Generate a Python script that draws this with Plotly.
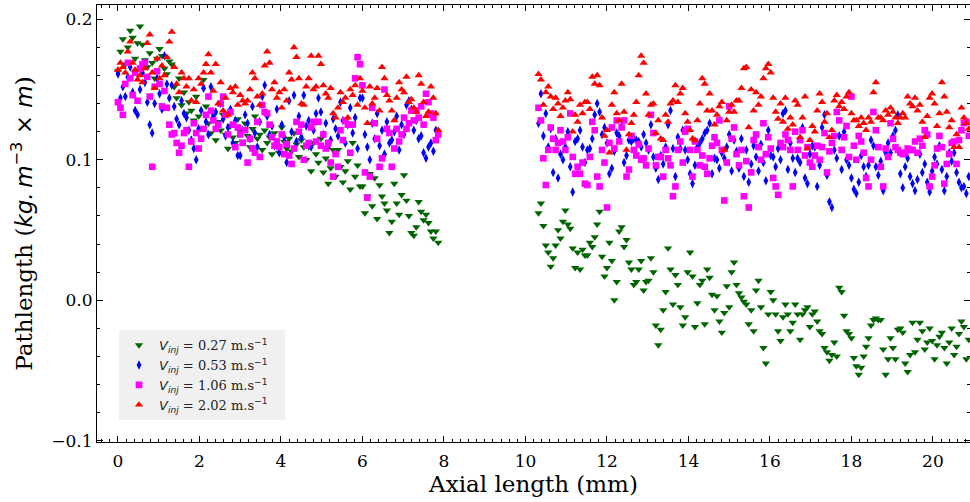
import numpy as np
import plotly.graph_objects as go

# ---------------- data ----------------
AXIAL_STEP_MM = 0.06
LEFT_START_MM = 0.0
RIGHT_START_MM = 10.32

MATH = '<span style="font-family:DejaVu Sans">'
PAD = "\u00a0\u00a0\u00a0"
series_names = [
    MATH + "<i>V</i><sub><i>inj</i></sub></span> = 0.27 m.s" + MATH + "<sup>−1</sup></span>" + PAD,
    MATH + "<i>V</i><sub><i>inj</i></sub></span> = 0.53 m.s" + MATH + "<sup>−1</sup></span>" + PAD,
    MATH + "<i>V</i><sub><i>inj</i></sub></span> = 1.06 m.s" + MATH + "<sup>−1</sup></span>" + PAD,
    MATH + "<i>V</i><sub><i>inj</i></sub></span> = 2.02 m.s" + MATH + "<sup>−1</sup></span>" + PAD,
]

green_left = [
    0.163, 0.177, 0.186, 0.168, 0.180, 0.192, 0.187, 0.172, 0.183, 0.195,
    0.182, 0.171, 0.166, 0.176, 0.169, 0.158, 0.172, 0.179, 0.174, 0.165,
    0.161, 0.170, 0.168, 0.152, 0.144, 0.158, 0.139, 0.148, 0.133, 0.141,
    0.135, 0.128, 0.145, 0.131, 0.122, 0.157, 0.138, 0.126, 0.119, 0.133,
    0.114, 0.127, 0.121, 0.132, 0.118, 0.108, 0.124, 0.116, 0.112, 0.129,
    0.120, 0.113, 0.126, 0.117, 0.109, 0.122, 0.131, 0.115, 0.118, 0.107,
    0.121, 0.112, 0.116, 0.104, 0.119, 0.110, 0.105, 0.123, 0.113, 0.108,
    0.115, 0.106, 0.119, 0.111, 0.102, 0.114, 0.109, 0.100, 0.109, 0.092,
    0.112, 0.104, 0.098, 0.115, 0.091, 0.101, 0.083, 0.094, 0.107, 0.088,
    0.107, 0.095, 0.084, 0.092, 0.099, 0.079, 0.112, 0.088, 0.096, 0.081,
    0.081, 0.062, 0.074, 0.090, 0.067, 0.087, 0.058, 0.082, 0.074, 0.069,
    0.064, 0.048, 0.056, 0.083, 0.069, 0.061, 0.075, 0.089, 0.071, 0.060,
    0.048, 0.046, 0.052, 0.070, 0.063, 0.057, 0.061, 0.055, 0.049, 0.044,
    0.049, 0.041,
]
green_right = [
    0.062, 0.069, 0.053, 0.039, 0.034, 0.024, 0.030, 0.039, 0.050, 0.044,
    0.056, 0.064, 0.054, 0.051, 0.037, 0.023, 0.034, 0.022, 0.036, 0.032,
    0.032, 0.041, 0.038, 0.045, 0.054, 0.063, 0.031, 0.017, 0.023, 0.041,
    0.028, 0.000, 0.013, 0.049, 0.052, 0.038, 0.043, 0.027, 0.022, 0.011,
    0.013, 0.022, 0.028, 0.007, 0.013, 0.014, 0.030, 0.020, -0.018, -0.032,
    -0.021, -0.007, 0.006, 0.037, 0.022, -0.003, 0.018, 0.011, -0.005, -0.018,
    -0.012, 0.020, 0.034, 0.017, -0.019, -0.002, 0.011, 0.014, -0.017, 0.022,
    0.016, 0.004, -0.007, 0.003, -0.015, -0.023, -0.009, 0.010, -0.005, 0.020,
    0.027, 0.011, 0.005, 0.002, -0.001, -0.003, -0.017, -0.007, -0.022, 0.007,
    0.014, -0.005, -0.034, -0.045, -0.010, 0.006, 0.000, -0.010, -0.022, -0.029,
    -0.012, -0.003, -0.010, -0.022, -0.016, -0.003, -0.010, -0.028, -0.010, -0.007,
    -0.005, -0.019, -0.010, -0.008, -0.015, -0.022, -0.024, -0.034, -0.037, -0.043,
    -0.039, -0.030, -0.040, 0.009, 0.006, -0.011, -0.022, -0.024, -0.027, -0.041,
    -0.047, -0.053, -0.048, -0.040, -0.033, -0.027, -0.018, -0.014, -0.013, -0.014,
    -0.014, -0.035, -0.053, -0.042, -0.027, -0.034, -0.042, -0.021, -0.020, -0.023,
    -0.045, -0.051, -0.039, -0.016, -0.037, -0.028, -0.016, -0.022, -0.035, -0.030,
    -0.020, -0.029, -0.042, -0.032, -0.026, -0.023, -0.034, -0.045, -0.030, -0.020,
    -0.039, -0.033, -0.024, -0.015, -0.019, -0.042, -0.028,
]

blue_left = [
    0.161, 0.144, 0.152, 0.145, 0.159, 0.166, 0.148, 0.135, 0.132, 0.150,
    0.162, 0.155, 0.141, 0.125, 0.119, 0.140, 0.158, 0.147, 0.136, 0.174,
    0.154, 0.144, 0.153, 0.138, 0.129, 0.125, 0.142, 0.133, 0.130, 0.121,
    0.114, 0.108, 0.100, 0.122, 0.135, 0.151, 0.127, 0.118, 0.152, 0.131,
    0.134, 0.125, 0.140, 0.129, 0.117, 0.123, 0.136, 0.112, 0.128, 0.103,
    0.103, 0.121, 0.132, 0.126, 0.115, 0.138, 0.119, 0.109, 0.127, 0.145,
    0.153, 0.131, 0.118, 0.124, 0.110, 0.136, 0.105, 0.125, 0.116, 0.098,
    0.142, 0.120, 0.146, 0.113, 0.131, 0.116, 0.146, 0.124, 0.128, 0.109,
    0.121, 0.133, 0.144, 0.134, 0.118, 0.126, 0.109, 0.114, 0.129, 0.122,
    0.117, 0.141, 0.128, 0.112, 0.125, 0.137, 0.119, 0.130, 0.108, 0.144,
    0.144, 0.118, 0.109, 0.100, 0.126, 0.115, 0.133, 0.110, 0.121, 0.104,
    0.127, 0.112, 0.114, 0.120, 0.131, 0.107, 0.125, 0.118, 0.139, 0.142,
    0.136, 0.121, 0.128, 0.115, 0.117, 0.105, 0.101, 0.109, 0.112, 0.106,
    0.121, 0.120,
]
blue_right = [
    0.126, 0.147, 0.117, 0.133, 0.109, 0.122, 0.091, 0.115, 0.087, 0.104,
    0.100, 0.109, 0.120, 0.095, 0.077, 0.113, 0.115, 0.121, 0.109, 0.098,
    0.107, 0.108, 0.115, 0.132, 0.140, 0.134, 0.118, 0.123, 0.112, 0.090,
    0.094, 0.106, 0.119, 0.117, 0.124, 0.098, 0.103, 0.114, 0.113, 0.115,
    0.114, 0.113, 0.109, 0.118, 0.112, 0.107, 0.125, 0.102, 0.094, 0.086,
    0.103, 0.097, 0.109, 0.125, 0.135, 0.108, 0.088, 0.116, 0.108, 0.121,
    0.107, 0.100, 0.090, 0.083, 0.096, 0.109, 0.112, 0.115, 0.119, 0.121,
    0.126, 0.090, 0.101, 0.100, 0.094, 0.105, 0.101, 0.109, 0.118, 0.092,
    0.114, 0.106, 0.094, 0.115, 0.088, 0.107, 0.084, 0.097, 0.110, 0.102,
    0.092, 0.111, 0.098, 0.085, 0.121, 0.103, 0.102, 0.095, 0.108, 0.100,
    0.133, 0.135, 0.093, 0.112, 0.101, 0.091, 0.101, 0.098, 0.123, 0.087,
    0.083, 0.104, 0.110, 0.109, 0.081, 0.096, 0.123, 0.132, 0.089, 0.070,
    0.066, 0.107, 0.101, 0.117, 0.093, 0.120, 0.100, 0.096, 0.087, 0.079,
    0.076, 0.084, 0.103, 0.095, 0.088, 0.096, 0.114, 0.110, 0.095, 0.089,
    0.099, 0.078, 0.105, 0.112, 0.105, 0.117, 0.121, 0.132, 0.090, 0.080,
    0.095, 0.101, 0.088, 0.083, 0.078, 0.086, 0.104, 0.091, 0.097, 0.084,
    0.077, 0.092, 0.102, 0.097, 0.110, 0.093, 0.078, 0.088, 0.105, 0.099,
    0.105, 0.091, 0.084, 0.080, 0.081, 0.076, 0.088,
]

magenta_left = [
    0.141, 0.137, 0.132, 0.154, 0.169, 0.158, 0.146, 0.162, 0.142, 0.165,
    0.168, 0.169, 0.159, 0.145, 0.095, 0.152, 0.163, 0.154, 0.138, 0.149,
    0.137, 0.125, 0.118, 0.119, 0.112, 0.105, 0.110, 0.119, 0.121, 0.095,
    0.113, 0.126, 0.119, 0.108, 0.115, 0.122, 0.132, 0.145, 0.135, 0.128,
    0.122, 0.125, 0.140, 0.145, 0.132, 0.118, 0.134, 0.125, 0.109, 0.123,
    0.118, 0.112, 0.121, 0.098, 0.115, 0.108, 0.105, 0.127, 0.102, 0.139,
    0.134, 0.133, 0.125, 0.116, 0.110, 0.113, 0.109, 0.118, 0.104, 0.111,
    0.103, 0.097, 0.108, 0.127, 0.120, 0.125, 0.100, 0.110, 0.112, 0.123,
    0.127, 0.113, 0.127, 0.110, 0.118, 0.108, 0.112, 0.098, 0.088, 0.104,
    0.095, 0.121, 0.114, 0.128, 0.125, 0.105, 0.125, 0.158, 0.173, 0.168,
    0.153, 0.091, 0.073, 0.088, 0.137, 0.126, 0.115, 0.095, 0.101, 0.150,
    0.122, 0.119, 0.095, 0.108, 0.122, 0.113, 0.118, 0.130, 0.122, 0.126,
    0.135, 0.128, 0.135, 0.130, 0.138, 0.125, 0.147, 0.141, 0.133, 0.130,
    0.114, 0.118,
]
magenta_right = [
    0.137, 0.128, 0.101, 0.082, 0.107, 0.123, 0.115, 0.107, 0.112, 0.121,
    0.113, 0.107, 0.116, 0.133, 0.102, 0.090, 0.095, 0.090, 0.098, 0.083,
    0.082, 0.102, 0.127, 0.121, 0.088, 0.081, 0.107, 0.098, 0.066, 0.112,
    0.123, 0.108, 0.128, 0.113, 0.123, 0.128, 0.088, 0.093, 0.117, 0.107,
    0.103, 0.111, 0.100, 0.101, 0.096, 0.108, 0.132, 0.119, 0.096, 0.102,
    0.102, 0.088, 0.107, 0.101, 0.096, 0.074, 0.081, 0.107, 0.113, 0.098,
    0.120, 0.122, 0.107, 0.088, 0.113, 0.107, 0.096, 0.103, 0.095, 0.090,
    0.101, 0.110, 0.116, 0.112, 0.128, 0.107, 0.071, 0.098, 0.138, 0.115,
    0.123, 0.104, 0.096, 0.107, 0.074, 0.099, 0.066, 0.091, 0.114, 0.118,
    0.109, 0.100, 0.126, 0.104, 0.116, 0.108, 0.087, 0.081, 0.075, 0.112,
    0.109, 0.118, 0.114, 0.107, 0.081, 0.120, 0.107, 0.114, 0.121, 0.103,
    0.109, 0.098, 0.095, 0.103, 0.110, 0.100, 0.109, 0.119, 0.091, 0.106,
    0.112, 0.117, 0.134, 0.128, 0.107, 0.116, 0.124, 0.102, 0.145, 0.110,
    0.100, 0.117, 0.113, 0.105, 0.087, 0.081, 0.100, 0.134, 0.121, 0.109,
    0.095, 0.081, 0.108, 0.102, 0.126, 0.115, 0.109, 0.107, 0.105, 0.104,
    0.105, 0.108, 0.107, 0.107, 0.113, 0.105, 0.115, 0.110, 0.121, 0.118,
    0.081, 0.088, 0.096, 0.108, 0.117, 0.109, 0.083, 0.097, 0.104, 0.112,
    0.113, 0.097, 0.114, 0.121, 0.126, 0.127, 0.117,
]

red_left = [
    0.164, 0.169, 0.166, 0.162, 0.177, 0.184, 0.169, 0.164, 0.157, 0.160,
    0.155, 0.165, 0.183, 0.189, 0.162, 0.151, 0.172, 0.158, 0.167, 0.160,
    0.173, 0.184, 0.191, 0.166, 0.154, 0.148, 0.162, 0.158, 0.152, 0.158,
    0.142, 0.150, 0.141, 0.158, 0.154, 0.162, 0.168, 0.175, 0.162, 0.149,
    0.168, 0.140, 0.155, 0.135, 0.144, 0.132, 0.151, 0.148, 0.152, 0.139,
    0.146, 0.142, 0.140, 0.142, 0.150, 0.162, 0.158, 0.145, 0.139, 0.147,
    0.167, 0.177, 0.169, 0.150, 0.155, 0.144, 0.148, 0.137, 0.150, 0.142,
    0.162, 0.157, 0.180, 0.173, 0.158, 0.140, 0.139, 0.152, 0.158, 0.174,
    0.150, 0.152, 0.174, 0.168, 0.153, 0.147, 0.144, 0.151, 0.133, 0.130,
    0.137, 0.148, 0.141, 0.144, 0.130, 0.150, 0.146, 0.153, 0.139, 0.158,
    0.149, 0.137, 0.126, 0.152, 0.140, 0.144, 0.151, 0.135, 0.166, 0.158,
    0.146, 0.142, 0.135, 0.128, 0.144, 0.155, 0.150, 0.148, 0.159, 0.141,
    0.143, 0.137, 0.134, 0.160, 0.154, 0.141, 0.131, 0.134, 0.152, 0.144,
    0.133, 0.121,
]
red_right = [
    0.161, 0.157, 0.139, 0.148, 0.152, 0.145, 0.136, 0.144, 0.140, 0.131,
    0.137, 0.142, 0.148, 0.143, 0.120, 0.132, 0.127, 0.139, 0.133, 0.141,
    0.141, 0.136, 0.159, 0.154, 0.160, 0.153, 0.130, 0.117, 0.121, 0.105,
    0.139, 0.148, 0.133, 0.128, 0.154, 0.134, 0.107, 0.118, 0.126, 0.132,
    0.141, 0.160, 0.174, 0.169, 0.147, 0.132, 0.139, 0.140, 0.119, 0.128,
    0.115, 0.114, 0.132, 0.127, 0.140, 0.142, 0.153, 0.141, 0.147, 0.151,
    0.133, 0.127, 0.121, 0.115, 0.114, 0.128, 0.140, 0.158, 0.154, 0.135,
    0.147, 0.135, 0.125, 0.132, 0.138, 0.141, 0.107, 0.128, 0.134, 0.139,
    0.134, 0.142, 0.142, 0.151, 0.165, 0.166, 0.123, 0.150, 0.135, 0.148,
    0.139, 0.145, 0.158, 0.165, 0.168, 0.162, 0.144, 0.134, 0.129, 0.140,
    0.127, 0.144, 0.122, 0.130, 0.125, 0.142, 0.139, 0.116, 0.130, 0.145,
    0.108, 0.114, 0.124, 0.120, 0.135, 0.147, 0.141, 0.127, 0.133, 0.116,
    0.121, 0.142, 0.146, 0.138, 0.141, 0.136, 0.145, 0.148, 0.133, 0.128,
    0.128, 0.124, 0.130, 0.126, 0.121, 0.130, 0.127, 0.148, 0.155, 0.130,
    0.130, 0.128, 0.135, 0.132, 0.137, 0.134, 0.130, 0.126, 0.130, 0.133,
    0.130, 0.145, 0.140, 0.138, 0.144, 0.135, 0.139, 0.127, 0.116, 0.131,
    0.144, 0.147, 0.140, 0.124, 0.133, 0.155, 0.145, 0.134, 0.123, 0.128,
    0.109, 0.118, 0.109, 0.137, 0.130, 0.126, 0.122,
]

x_tick_values = [0, 2, 4, 6, 8, 10, 12, 14, 16, 18, 20]
y_tick_values = [-0.1, 0.0, 0.1, 0.2]
y_tick_labels = ["−0.1", "0.0", "0.1", "0.2"]
x_title = "Axial length (mm)"
y_title = ("Pathlength (" + MATH + "<i>kg.\u2009m</i><sup>−3</sup> × <i>m</i></span>)")

# ---------------- build figure ----------------
def axial(values, start):
    return np.round(start + AXIAL_STEP_MM * np.arange(len(values)), 3)

series = [
    (green_left, green_right, "#006400", "triangle-down", 7.3),
    (blue_left, blue_right, "#0000ff", "diamond-tall", 6.8),
    (magenta_left, magenta_right, "#ff00ff", "square", 6.6),
    (red_left, red_right, "#ff0000", "triangle-up", 7.3),
]

fig = go.Figure()
for name, (yl, yr, color, symbol, size) in zip(series_names, series):
    x = np.concatenate([axial(yl, LEFT_START_MM), axial(yr, RIGHT_START_MM)])
    y = np.array(yl + yr)
    fig.add_trace(go.Scatter(
        x=x, y=y, mode="markers", name=name,
        marker=dict(color=color, symbol=symbol, size=size, line=dict(width=0)),
    ))

FONT = "DejaVu Serif"
axis_common = dict(
    showline=True, linecolor="black", linewidth=1, mirror="ticks",
    ticks="inside", ticklen=6, tickwidth=1, tickcolor="black",
    showgrid=False, zeroline=False, automargin=False,
    tickfont=dict(family=FONT, size=17, color="black"),
)

fig.update_xaxes(
    range=[-0.515, 20.91], tickvals=x_tick_values, ticklabelstandoff=4,
    minor=dict(ticks="inside", ticklen=3, tickwidth=1, tickcolor="black", dtick=0.2, tick0=0, showgrid=False),
    title=dict(text=x_title, font=dict(family=FONT, size=23, color="black"), standoff=2),
    **axis_common,
)
fig.update_yaxes(
    range=[-0.101, 0.2102], tickvals=y_tick_values, ticktext=y_tick_labels,
    minor=dict(ticks="inside", ticklen=3, tickwidth=1, tickcolor="black", dtick=0.02, tick0=0, showgrid=False),
    title=dict(text=y_title, font=dict(family=FONT, size=23, color="black"), standoff=12),
    **axis_common,
)

fig.update_layout(
    width=970, height=502,
    margin=dict(l=97, r=0, t=5, b=60),
    paper_bgcolor="white", plot_bgcolor="white",
    font=dict(family=FONT, color="black"),
    legend=dict(
        x=0.0252, y=0.256, xanchor="left", yanchor="top",
        bgcolor="#f0f0f0", borderwidth=0,
        font=dict(family=FONT, size=13, color="#222222"),
        itemsizing="trace", tracegroupgap=0,
    ),
)

fig.write_html(
    "out.html",
    config={"displayModeBar": False},
    post_script="document.body.style.margin='0';document.body.style.overflow='hidden';",
)
